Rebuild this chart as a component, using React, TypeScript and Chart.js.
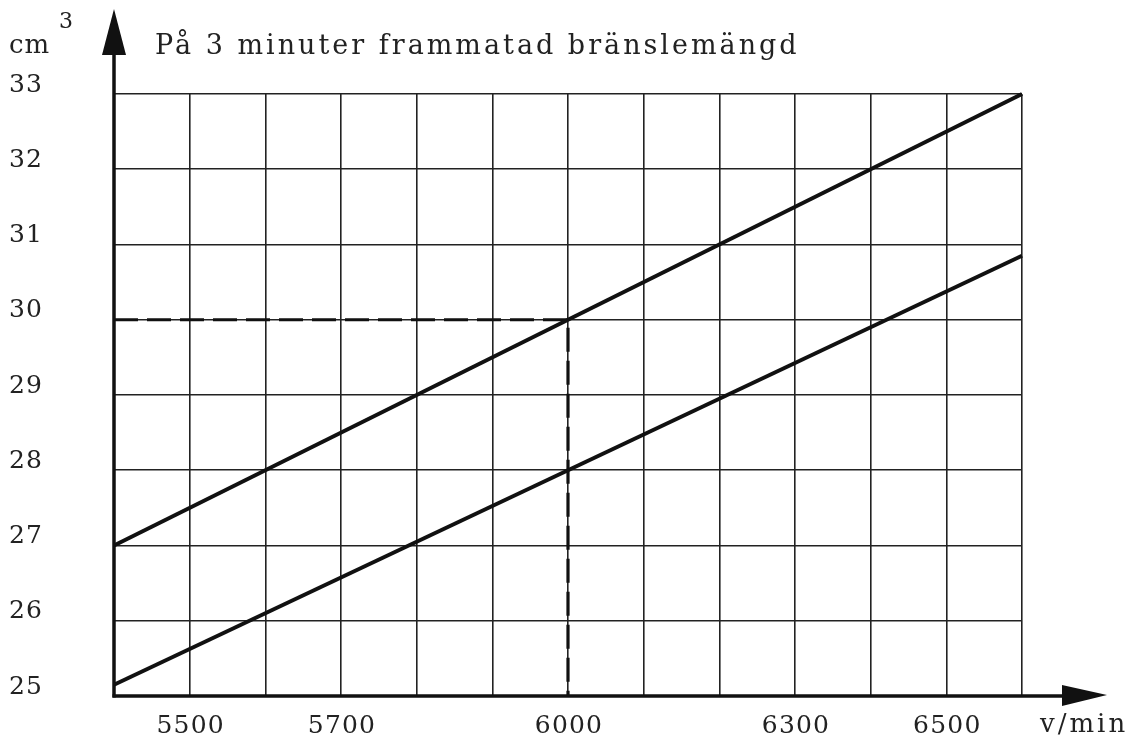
import React, { useEffect, useRef } from "react";
import { Chart, registerables } from "chart.js";

Chart.register(...registerables);

// ---- data ----
const speedRange = [5400, 6600]; // v/min
const upperLine = [27, 33]; // cm3 at speedRange ends
const lowerLine = [25.15, 30.85]; // cm3 at speedRange ends
const guideX = [5400, 6000, 6000];
const guideY = [30, 30, 25];
const xTickLabels = [5500, 5700, 6000, 6300, 6500];
const yTickLabels = [25, 26, 27, 28, 29, 30, 31, 32, 33];
const titleText = "På 3 minuter frammatad bränslemängd";
const yUnit = "cm";
const yUnitSup = "3";
const xUnit = "v/min";

const INK = "#111";
const FONT = "'DejaVu Serif', serif";

const decorPlugin = {
  id: "decor",
  afterDraw(chart: any) {
    const ctx = chart.ctx as CanvasRenderingContext2D & { letterSpacing?: string };
    const xs = chart.scales.x;
    const ys = chart.scales.y;
    const x0 = xs.getPixelForValue(speedRange[0]);
    const y0 = ys.getPixelForValue(yTickLabels[0]);
    ctx.save();
    ctx.strokeStyle = INK;
    ctx.fillStyle = INK;
    ctx.lineWidth = 3.5;
    ctx.lineCap = "butt";
    // y axis
    ctx.beginPath();
    ctx.moveTo(x0, y0 + 1.5);
    ctx.lineTo(x0, 40);
    ctx.stroke();
    // x axis
    ctx.beginPath();
    ctx.moveTo(x0 - 1.5, y0);
    ctx.lineTo(1075, y0);
    ctx.stroke();
    // arrow heads
    ctx.beginPath();
    ctx.moveTo(x0, 9);
    ctx.lineTo(x0 + 12, 55);
    ctx.lineTo(x0 - 12, 55);
    ctx.closePath();
    ctx.fill();
    ctx.beginPath();
    ctx.moveTo(1107, y0 - 1);
    ctx.lineTo(1062, y0 - 11);
    ctx.lineTo(1062, y0 + 10);
    ctx.closePath();
    ctx.fill();

    // texts
    ctx.fillStyle = "#222";
    ctx.font = `25px ${FONT}`;
    ctx.letterSpacing = "1.2px";
    ctx.textBaseline = "middle";
    ctx.textAlign = "left";
    for (const v of yTickLabels) {
      ctx.fillText(String(v), 9, ys.getPixelForValue(v) - 9);
    }
    ctx.textAlign = "center";
    for (const v of xTickLabels) {
      ctx.fillText(String(v), xs.getPixelForValue(v) + 1, 726);
    }
    ctx.textAlign = "left";
    ctx.font = `26px ${FONT}`;
    ctx.letterSpacing = "3px";
    ctx.fillText(xUnit, 1040, 725);
    ctx.font = `26px ${FONT}`;
    ctx.letterSpacing = "1px";
    ctx.fillText(yUnit, 9, 46);
    ctx.font = `22px ${FONT}`;
    ctx.letterSpacing = "0px";
    ctx.fillText(yUnitSup, 59, 22);
    ctx.font = `27px ${FONT}`;
    ctx.letterSpacing = "3px";
    ctx.fillText(titleText, 155, 47);
    ctx.restore();
  },
};

export default function App() {
  const ref = useRef<HTMLCanvasElement | null>(null);
  useEffect(() => {
    if (!ref.current) return;
    const chart = new Chart(ref.current, {
      type: "line",
      data: {
        datasets: [
          {
            data: speedRange.map((x, i) => ({ x, y: upperLine[i] })),
            borderColor: INK,
            borderWidth: 4,
            pointRadius: 0,
            clip: false as any,
          },
          {
            data: speedRange.map((x, i) => ({ x, y: lowerLine[i] })),
            borderColor: INK,
            borderWidth: 4,
            pointRadius: 0,
            clip: false as any,
          },
          {
            data: guideX.map((x, i) => ({ x, y: guideY[i] })),
            borderColor: INK,
            borderWidth: 3.2,
            borderDash: [24, 9],
            pointRadius: 0,
            clip: false as any,
          },
        ],
      },
      options: {
        animation: false,
        responsive: false,
        maintainAspectRatio: false,
        layout: { padding: { left: 114, right: 118, top: 94, bottom: 47 } },
        plugins: { legend: { display: false }, tooltip: { enabled: false }, title: { display: false } },
        scales: {
          x: {
            type: "linear",
            min: speedRange[0],
            max: speedRange[1],
            ticks: { display: false, stepSize: 100 },
            grid: { color: "#222", lineWidth: 1.6, drawTicks: false },
            border: { display: false },
          },
          y: {
            type: "linear",
            min: 25,
            max: 33,
            ticks: { display: false, stepSize: 1 },
            grid: { color: "#222", lineWidth: 1.6, drawTicks: false },
            border: { display: false },
          },
        },
      },
      plugins: [decorPlugin],
    });
    return () => chart.destroy();
  }, []);
  return (
    <div style={{ position: "fixed", left: 0, top: 0, width: 1140, height: 743, background: "#fff" }}>
      <canvas ref={ref} width={1140} height={743} style={{ width: 1140, height: 743 }} />
    </div>
  );
}
